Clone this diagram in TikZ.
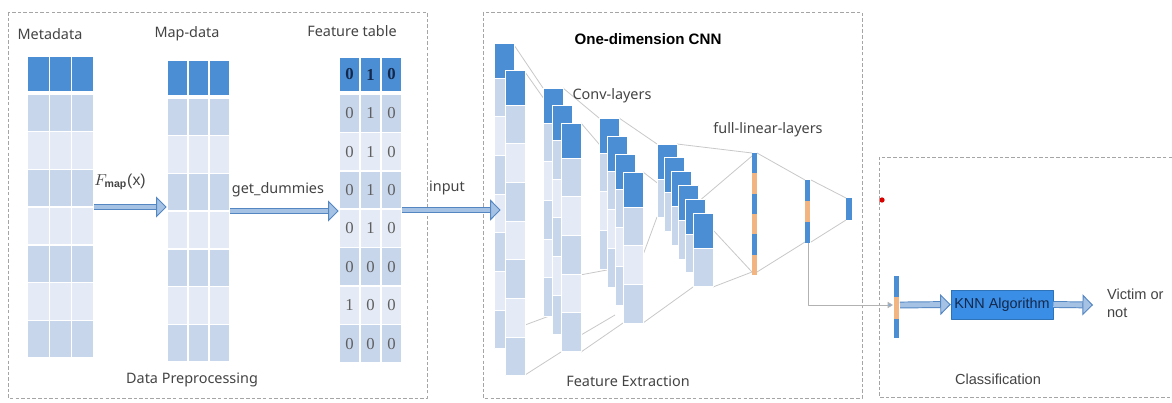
\documentclass[tikz,border=0pt]{standalone}
\usepackage{fontspec}
\setmainfont{Liberation Sans}
\newfontfamily\cnfont{Noto Sans}
\newfontfamily\numfont{Liberation Serif}
\usetikzlibrary{arrows.meta,fit,positioning}

\definecolor{headblue}{RGB}{76,142,212}
\definecolor{cellmid}{RGB}{200,214,236}
\definecolor{celllight}{RGB}{229,235,246}
\definecolor{fcorange}{RGB}{242,180,128}
\definecolor{knnblue}{RGB}{58,142,230}
\definecolor{arrowfill}{RGB}{165,194,228}
\definecolor{arrowedge}{RGB}{84,134,194}
\definecolor{dashgray}{RGB}{165,165,165}
\definecolor{linegray}{RGB}{200,200,200}
\definecolor{textgray}{RGB}{68,68,68}
\definecolor{navy}{RGB}{20,40,75}

% one column of a CNN layer: x, top y, number of light rows
\newcommand{\cnncol}[3]{%
  \filldraw[headblue, draw=white, line width=0.5pt] (#1,#2) rectangle ++(20,35);
  \foreach \r in {1,...,#3}{
    \ifodd\r\relax\def\rowc{cellmid}\else\def\rowc{celllight}\fi
    \filldraw[fill=\rowc, draw=white, line width=0.5pt] (#1,{#2+35+(\r-1)*38.7}) rectangle ++(20,38.7);
  }
}

% a three column table: x, top y, width, header height, row height, first body y
\newcommand{\datatable}[6]{%
  \foreach \c in {0,1,2}{
    \filldraw[headblue, draw=white, line width=0.8pt] ({#1+\c*#3/3},#2) rectangle ({#1+(\c+1)*#3/3},{#2+#4});
    \foreach \r in {1,...,7}{
      \ifodd\r\relax\def\rowc{cellmid}\else\def\rowc{celllight}\fi
      \filldraw[fill=\rowc, draw=white, line width=0.8pt] ({#1+\c*#3/3},{#6+(\r-1)*#5}) rectangle ({#1+(\c+1)*#3/3},{#6+\r*#5});
    }
  }
}

\begin{document}
\begin{tikzpicture}[x=0.02cm, y=-0.02cm, line join=round,
  lbl/.style={font=\cnfont\fontsize{8.2}{10}\selectfont, text=textgray, inner sep=1pt},
  arlbl/.style={font=\fontsize{8.3}{10.2}\selectfont, text=textgray, inner sep=1pt},
  digit/.style={font=\numfont\fontsize{9.5}{11}\selectfont, text=textgray!85, inner sep=0pt},
  fatarrow/.style={draw=arrowedge, line width=0.55pt, double=arrowfill, double distance=2.8pt,
    -{Triangle[length=6pt, width=12pt, fill=arrowfill, line width=0.55pt]}},
  groupbox/.style={draw=dashgray, line width=0.4pt, dash pattern=on 2pt off 1.2pt},
  link/.style={draw=linegray, line width=0.45pt},
  knnbox/.style={fill=knnblue, draw=knnblue!80!black, line width=0.3pt, minimum width=2.04cm,
    minimum height=0.58cm, inner sep=0pt, font=\fontsize{8.2}{10}\selectfont, text=navy}]

  \fill[white] (0,0) rectangle (1172,402);
  \useasboundingbox (0,0) rectangle (1172,402);

  % stage frames
  \draw[groupbox] (8,12) rectangle (427,398);
  \draw[groupbox] (483,12) rectangle (862,398);
  \draw[groupbox] (1172,157) -- (879,157) -- (879,397) -- (1172,397);

  % data preprocessing
  \datatable{27}{56}{67}{36}{37.7}{94}
  \datatable{167}{60}{63}{36}{37.7}{98}
  \datatable{339}{57}{63}{35}{38.4}{94}
  \node[fit={(27,56) (94,358)}, inner sep=0pt] (meta) {};
  \node[fit={(167,60) (230,362)}, inner sep=0pt] (mapdata) {};
  \node[fit={(339,57) (402,363)}, inner sep=0pt] (feat) {};

  \foreach \v [count=\k from 0] in {0,1,0}
    \node[digit, text=navy, font=\numfont\bfseries\fontsize{9.5}{11}\selectfont] at ({339+(\k+0.5)*21},74.5) {\v};
  \foreach \a/\b/\c [count=\r] in {0/1/0,0/1/0,0/1/0,0/1/0,0/0/0,1/0/0,0/0/0}
    \foreach \v [count=\k from 0] in {\a,\b,\c}
      \node[digit] at ({339+(\k+0.5)*21},{94+(\r-0.5)*38.4}) {\v};

  \node[lbl] (metalbl) at (50,34) {Metadata};
  \node[lbl] (maplbl) at (187,34) {Map-data};
  \node[lbl] (featlbl) at (352,31) {Feature table};
  \node[lbl] (preplbl) at (192,380) {Data Preprocessing};

  \draw[fatarrow] (meta.east) -- (meta.east -| mapdata.west);
  \draw[fatarrow] (mapdata.east) -- (mapdata.east -| feat.west);
  \node[lbl, font=\fontsize{9}{11}\selectfont] (fmaplbl) at (120,182) {$F_{\mathbf{map}}$(x)};
  \node[lbl] (dumlbl) at (278,190) {get\_dummies};

  % feature extraction
  \node[font=\bfseries\fontsize{8.6}{10}\selectfont, inner sep=1pt] (cnnlbl) at (648,39) {One-dimension CNN};

  \draw[link] (514,45) -- (543,88) (525,72) -- (561,123) (525,375) -- (561,352) (525,325) -- (552,315);
  \draw[link] (563,88) -- (599,118) (581,123) -- (623,172) (581,352) -- (623,323) (581,335) -- (615,315) (580,275) -- (607,270);
  \draw[link] (619,118) -- (657,144) (643,172) -- (690,208) (643,323) -- (693,287) (643,255) -- (657,217);
  \draw[link] (677,144) -- (752,153) (713,287) -- (752,272) (698,202) -- (752,156) (713,230) -- (752,272);
  \draw[link] (757,153) -- (805,180) (757,272) -- (805,242);
  \draw[link] (811,180) -- (846,198) (811,242) -- (846,220);

  \foreach \i in {0,1} {\cnncol{494+11*\i}{43+27*\i}{7}}
  \foreach \i in {0,1,2} {\cnncol{543+9*\i}{88+17.5*\i}{5}}
  \foreach \i in {0,...,3} {\cnncol{599+8*\i}{118+18*\i}{3}}
  \foreach \i in {0,...,5} {\cnncol{657+7.2*\i}{144+13.8*\i}{1}}
  \node[fit={(494,43) (525,376)}, inner sep=0pt] (conv1) {};

  \foreach \c [count=\k from 0] in {headblue,fcorange,headblue,fcorange,headblue,fcorange}
    \fill[\c] (752,{153+\k*20.3}) rectangle ++(5,20.3);
  \foreach \c [count=\k from 0] in {headblue,fcorange,headblue}
    \fill[\c] (805,{180+\k*21}) rectangle ++(5,21);
  \fill[headblue] (846,198) rectangle (852,220);
  \coordinate (fc2) at (808,243);

  \node[lbl] (convlbl) at (612,96) {Conv-layers};
  \node[lbl] (fclbl) at (768,130) {full-linear-layers};
  \node[lbl] (extlbl) at (628,381) {Feature Extraction};

  \draw[fatarrow] (feat.east) -- ([xshift=4pt]feat.east -| conv1.west);
  \node[lbl] (inlbl) at (447,188) {input};

  % classification
  \fill[red!85!black] (882,200) circle[radius=1.5pt];
  \fill[headblue] (894,276) rectangle (899,297);
  \fill[fcorange] (894,297) rectangle (899,319);
  \fill[headblue] (894,319) rectangle (899,338);
  \coordinate (clsin) at (893,305);
  \coordinate (clsout) at (900,305);
  \draw[link, draw=gray!60, -{Triangle[length=3pt, width=3.5pt, fill=arrowedge!70]}] (fc2) |- (clsin);

  \node[knnbox] (knn) at (1002,304.5) {KNN Algorithm};
  \coordinate (res) at (1093,305);
  \draw[fatarrow] (clsout) -- (knn.west);
  \draw[fatarrow] (knn.east) -- (res);
  \node[arlbl, anchor=west, align=left] (victim) at (1105,303) {Victim or\\not};
  \node[arlbl] (clslbl) at (998,379) {Classification};
\end{tikzpicture}
\end{document}
